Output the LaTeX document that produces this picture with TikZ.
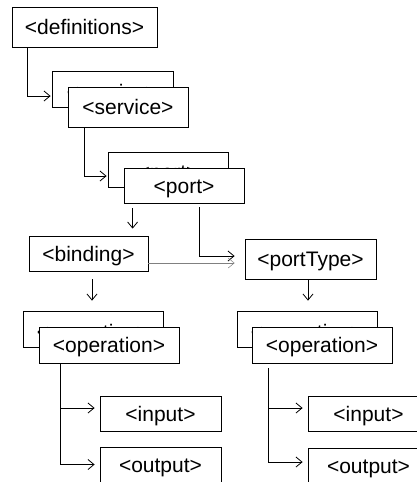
\documentclass[tikz,border=0pt]{standalone}
\usepackage{fontspec}
\setmainfont{Liberation Sans}
\usetikzlibrary{arrows.meta,positioning}
\begin{document}
\begin{tikzpicture}[x=1pt,y=-1pt,
    tag/.style={draw, fill=white, line width=0.8pt, inner sep=0pt,
      minimum width=120pt, minimum height=35pt,
      text height=15pt, text depth=0pt,
      font=\fontsize{21}{24}\selectfont},
    behind/.style={text height=20pt},
    link/.style={draw, line width=0.8pt,
      -{Straight Barb[length=6pt,width=10pt]}}]
      \useasboundingbox (0,0) rectangle (416,482);
      \begin{scope}[every node/.style={tag}]
        \node[minimum width=145pt, minimum height=40pt] (defs) at (84.5,27) {<definitions>};
        % stacked boxes: back one first, front one covers it
        \node[behind, minimum width=121pt, minimum height=36pt] (servB) at (112.5,89) {<service>};
        \node[minimum height=40pt] (servF) at (128,107) {<service>};
        \node[behind] (portB) at (168,169.5) {<port>};
        \node (portF) at (184,185.5) {<port>};
        \node[minimum width=119pt] (bind) at (88.5,253.5) {<binding>};
        \node[minimum width=131pt, minimum height=40pt] (ptype) at (310.5,259) {<portType>};
        \node[behind, minimum width=140pt, minimum height=36pt] (opLB) at (93,329) {<operation>};
        \node[minimum width=140pt, minimum height=36pt] (opLF) at (109,345) {<operation>};
        \node[behind, minimum width=140pt, minimum height=36pt] (opRB) at (307,329) {<operation>};
        \node[minimum width=140pt, minimum height=36pt] (opRF) at (322,345) {<operation>};
        \node[minimum width=121pt] (inL) at (160.5,413.5) {<input>};
        \node[minimum width=121pt] (outL) at (160.5,464.5) {<output>};
        \node[minimum width=121pt] (inR) at (368.5,413.5) {<input>};
        \node[minimum width=121pt] (outR) at (368.5,465.5) {<output>};
      \end{scope}
      \coordinate (p1) at ([xshift=9pt]portF.south west);
      \coordinate (p2) at ([xshift=76pt]portF.south west);
      \coordinate (b1) at ([yshift=-9.5pt]bind.east);
      \coordinate (b2) at ([xshift=3.5pt]bind.south);
      \coordinate (t1) at ([xshift=-2.5pt]ptype.south);
      \coordinate (o1) at ([xshift=22pt]opLF.south west);
      \coordinate (o2) at ([xshift=17pt]opRF.south west);
      \begin{scope}[every path/.style={link}]
        \path[shorten >=1pt] ([xshift=16pt]defs.south west) |- ([yshift=-7pt]servB.west);
        \path[shorten >=1pt] ([xshift=17pt]servF.south west) |- ([yshift=-6.5pt]portB.west);
        \path[shorten <=5pt, shorten >=7pt] (p1) -- (p1 |- bind.north);
        \path[shorten <=4pt, shorten >=10pt] (p2) |- ([yshift=3pt]ptype.west);
        \path[gray, line width=0.5pt, shorten >=10pt] (b1) -- (b1 -| ptype.west);
        \path[shorten <=8pt, shorten >=10pt] (b2) -- (b2 |- opLB.north);
        \path[shorten <=1pt, shorten >=10pt] (t1) -- (t1 |- opRB.north);
        \path[shorten >=5pt] (o1) |- ([yshift=5.5pt]inL.west);
        \path[shorten >=5pt] (o1) |- (outL.west);
        \path[shorten <=5pt, shorten >=5pt] (o2) |- ([yshift=5.5pt]inR.west);
        \path[shorten <=5pt, shorten >=5pt] (o2) |- ([yshift=3.5pt]outR.west);
      \end{scope}
    \end{tikzpicture}
\end{document}
